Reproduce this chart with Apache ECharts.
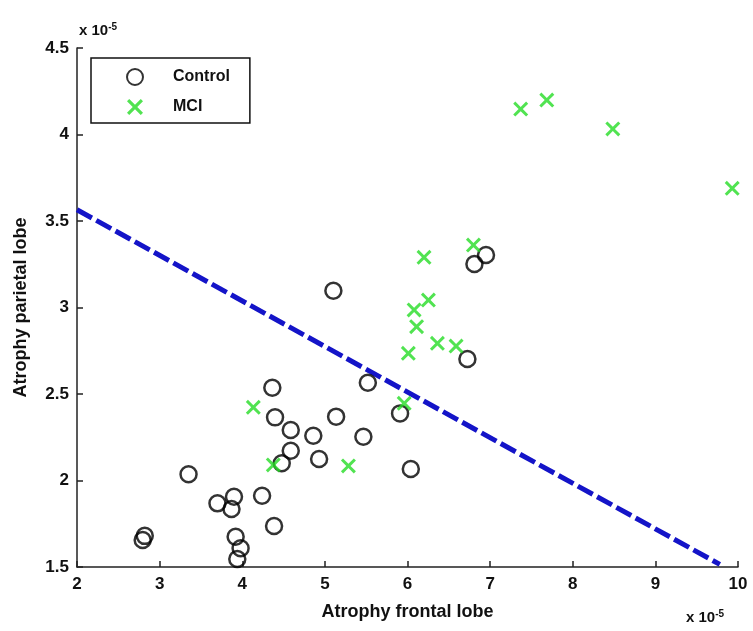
<!DOCTYPE html>
<html>
<head>
<meta charset="utf-8">
<script src="https://cdn.jsdelivr.net/npm/echarts@6/dist/echarts.min.js"></script>
<style>html,body{margin:0;padding:0;background:#fff;}#c{width:753px;height:631px;}</style>
</head>
<body>
<div id="c"></div>
<script>
// Values in units of 1e-5
var controlX = [2.795, 2.82, 3.35, 3.70, 3.90, 3.87, 3.92, 3.98, 3.94, 4.24, 4.385, 4.364, 4.397, 4.587, 4.587, 4.478, 4.86, 4.93, 5.136, 5.466, 5.52, 5.103, 5.91, 6.04, 6.725, 6.81, 6.95];
var controlY = [1.656, 1.68, 2.036, 1.868, 1.906, 1.835, 1.675, 1.608, 1.546, 1.912, 1.737, 2.536, 2.365, 2.292, 2.172, 2.10, 2.259, 2.124, 2.369, 2.253, 2.565, 3.097, 2.388, 2.066, 2.702, 3.251, 3.303];
var mciX = [4.134, 4.376, 5.285, 5.96, 6.01, 6.08, 6.11, 6.20, 6.253, 6.362, 6.588, 6.798, 7.37, 7.686, 8.485, 9.93];
var mciY = [2.423, 2.09, 2.084, 2.446, 2.735, 2.986, 2.889, 3.29, 3.043, 2.793, 2.777, 3.361, 4.147, 4.199, 4.032, 3.689];
var boundaryX = [2, 9.78];
var boundaryY = [3.565, 1.515];
var xTicks = [2, 3, 4, 5, 6, 7, 8, 9, 10];
var yTicks = [1.5, 2, 2.5, 3, 3.5, 4, 4.5];

function zip(a, b) { return a.map(function (v, i) { return [v, b[i]]; }); }

var FONT = '"Liberation Sans", Arial, sans-serif';
var crossPath = 'path://M0,1.4L1.4,0L5,3.6L8.6,0L10,1.4L6.4,5L10,8.6L8.6,10L5,6.4L1.4,10L0,8.6L3.6,5Z';

var chart = echarts.init(document.getElementById('c'));
chart.setOption({
  backgroundColor: '#fff',
  animation: false,
  grid: { left: 77, right: 15, top: 48, bottom: 64, containLabel: false },
  xAxis: {
    type: 'value', min: xTicks[0], max: xTicks[xTicks.length - 1], interval: 1,
    name: 'Atrophy frontal lobe', nameLocation: 'middle', nameGap: 36,
    nameTextStyle: { fontFamily: FONT, fontWeight: 'bold', fontSize: 18, color: '#111' },
    axisLine: { lineStyle: { color: '#222', width: 1.5 } },
    axisTick: { inside: true, length: 6, lineStyle: { color: '#222', width: 1.5 } },
    axisLabel: { fontFamily: FONT, fontWeight: 'bold', fontSize: 17, color: '#111', margin: 9 },
    splitLine: { show: false }
  },
  yAxis: {
    type: 'value', min: yTicks[0], max: yTicks[yTicks.length - 1], interval: 0.5,
    name: 'Atrophy parietal lobe', nameLocation: 'middle', nameGap: 47, nameRotate: 90,
    nameTextStyle: { fontFamily: FONT, fontWeight: 'bold', fontSize: 18, color: '#111' },
    axisLine: { lineStyle: { color: '#222', width: 1.5 } },
    axisTick: { inside: true, length: 6, lineStyle: { color: '#222', width: 1.5 } },
    axisLabel: { fontFamily: FONT, fontWeight: 'bold', fontSize: 17, color: '#111', margin: 8 },
    splitLine: { show: false }
  },
  legend: {
    orient: 'vertical', left: 91, top: 58,
    backgroundColor: '#fff',
    borderColor: '#111', borderWidth: 1.5,
    padding: [10, 20, 8, 35],
    itemGap: 13, itemWidth: 16, itemHeight: 16,
    textStyle: { fontFamily: FONT, fontWeight: 'bold', fontSize: 16, color: '#111', padding: [0, 0, 0, 25] },
    data: ['Control', 'MCI']
  },
  graphic: [
    { type: 'text', left: 79, top: 22, style: { text: 'x 10{s|-5}', fontFamily: FONT, fontWeight: 'bold', fontSize: 15, fill: '#111',
      rich: { s: { fontSize: 10, fontWeight: 'bold', fontFamily: FONT, verticalAlign: 'top', padding: [0, 0, 8, 0] } } } },
    { type: 'text', left: 686, top: 609, style: { text: 'x 10{s|-5}', fontFamily: FONT, fontWeight: 'bold', fontSize: 15, fill: '#111',
      rich: { s: { fontSize: 10, fontWeight: 'bold', fontFamily: FONT, verticalAlign: 'top', padding: [0, 0, 8, 0] } } } }
  ],
  series: [
    {
      name: 'Boundary', type: 'line', data: zip(boundaryX, boundaryY), symbol: 'none', z: 1,
      lineStyle: { color: '#1414c8', width: 5, type: [17, 5] }
    },
    {
      name: 'Control', type: 'scatter', data: zip(controlX, controlY), symbol: 'circle', symbolSize: 16, z: 3,
      itemStyle: { color: 'rgba(255,255,255,0)', borderColor: '#000', borderWidth: 2.5 }
    },
    {
      name: 'MCI', type: 'scatter', data: zip(mciX, mciY), symbol: crossPath, symbolSize: 15, z: 4,
      itemStyle: { color: '#26dc26' }
    }
  ]
});
</script>
</body>
</html>
